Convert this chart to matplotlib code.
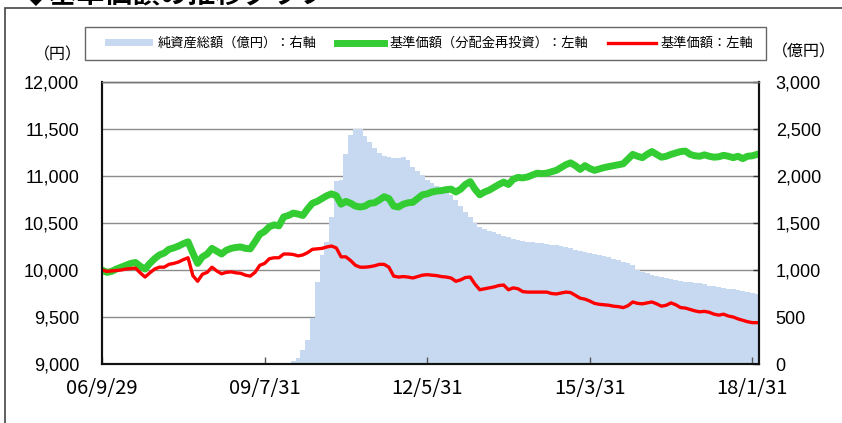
import matplotlib
matplotlib.use("Agg")
import matplotlib.pyplot as plt
from matplotlib.patches import Patch, Rectangle

plt.rcParams["font.family"] = ["Noto Sans CJK JP", "DejaVu Sans"]

# x axis: monthly index, 0 = 2006/9
tick_months = [0, 34, 68, 102, 136]
tick_labels = ["06/9/29", "09/7/31", "12/5/31", "15/3/31", "18/1/31"]

# 基準価額(分配金再投資) (yen), monthly
nav_reinvested = [
    10000, 9975, 9985, 10010, 10030, 10050, 10070, 10080, 10040, 10010,
    10070, 10120, 10160, 10180, 10220, 10235, 10255, 10280, 10300, 10180,
    10070, 10140, 10170, 10230, 10200, 10170, 10210, 10230, 10240, 10245,
    10230, 10225, 10300, 10380, 10410, 10460, 10480, 10470, 10565, 10580,
    10605, 10595, 10580, 10650, 10710, 10730, 10760, 10790, 10810, 10790,
    10700, 10730, 10710, 10680, 10670, 10680, 10710, 10715, 10745, 10780,
    10760, 10680, 10670, 10700, 10715, 10720, 10760, 10800, 10810, 10830,
    10840, 10845, 10855, 10860, 10830, 10860, 10910, 10940, 10860, 10800,
    10830, 10850, 10880, 10910, 10935, 10910, 10965, 10985, 10980, 10990,
    11010, 11030, 11025, 11030, 11045, 11060, 11090, 11120, 11140, 11110,
    11070, 11110, 11080, 11060, 11075, 11090, 11100, 11110, 11120, 11130,
    11180, 11230, 11210, 11195, 11230, 11260, 11230, 11200, 11210, 11230,
    11245, 11260, 11265, 11230, 11215, 11210, 11225, 11210, 11200, 11205,
    11220, 11210, 11195, 11210, 11185, 11210, 11215, 11230,
]

# 基準価額 (yen), monthly
nav = [
    10000, 9985, 9990, 9995, 10000, 10010, 10015, 10020, 9970, 9925,
    9970, 10010, 10030, 10030, 10060, 10070, 10085, 10110, 10130, 9940,
    9880, 9955, 9975, 10030, 9990, 9960, 9975, 9980, 9970, 9965,
    9945, 9935, 9975, 10050, 10070, 10120, 10130, 10130, 10170, 10170,
    10165, 10150, 10160, 10185, 10220, 10225, 10230, 10245, 10255, 10235,
    10140, 10140, 10100, 10050, 10030, 10030, 10035, 10045, 10060, 10060,
    10030, 9935, 9925, 9930, 9925, 9915, 9930, 9945, 9950, 9945,
    9940, 9930, 9925, 9915, 9880, 9895, 9920, 9925, 9850, 9790,
    9800, 9810, 9820, 9835, 9840, 9790, 9810, 9800, 9770, 9765,
    9765, 9765, 9765, 9765, 9750, 9745, 9755, 9765, 9760, 9730,
    9700, 9690, 9670, 9645, 9635, 9630, 9625, 9615, 9610, 9600,
    9620, 9660, 9645, 9640, 9650, 9660, 9640, 9615, 9625, 9650,
    9630, 9600, 9595, 9580, 9565, 9555, 9560, 9550, 9530, 9520,
    9530, 9510, 9500, 9480, 9465, 9450, 9440, 9440,
]

# 純資産総額 (億円), monthly from month index 38
assets_start = 38
net_assets = [
    10, 15, 30, 60, 150, 255, 490, 870, 1160, 1300,
    1560, 1950, 1960, 2230, 2440, 2500, 2500, 2430, 2360, 2300,
    2250, 2210, 2200, 2190, 2195, 2200, 2170, 2100, 2050, 2010,
    1960, 1925, 1895, 1870, 1830, 1800, 1745, 1680, 1620, 1560,
    1500, 1460, 1435, 1415, 1400, 1380, 1360, 1350, 1330, 1320,
    1310, 1300, 1295, 1290, 1285, 1275, 1270, 1265, 1260, 1250,
    1230, 1215, 1205, 1195, 1185, 1175, 1160, 1150, 1135, 1120,
    1105, 1090, 1075, 1050, 1000, 980, 965, 950, 940, 930,
    915, 905, 895, 885, 875, 870, 865, 860, 850, 835,
    825, 815, 805, 800, 795, 785, 775, 770, 760, 750,
]

W, H = 842, 423
fig = plt.figure(figsize=(W / 100, H / 100), dpi=100)

# outer frame and clipped heading
fig.add_artist(Rectangle((5 / W, -0.2), 2.0, 1.2 - 8 / H, transform=fig.transFigure,
                         fill=False, ec="#444444", lw=1.2))
fig.text(22 / W, 1 - 2.5 / H, "◆基準価額の推移グラフ", fontsize=20, fontweight="bold",
         ha="left", va="baseline")

ax = fig.add_axes([102 / W, 1 - 364 / H, 657 / W, 282 / H])
ax2 = ax.twinx()
ax.set_zorder(ax2.get_zorder() + 1)
ax.patch.set_visible(False)

months = list(range(len(nav)))
asset_months = list(range(assets_start, assets_start + len(net_assets)))

ax2.bar(asset_months, net_assets, width=1.0, color="#C6D9F1", lw=0, zorder=2)
ax2.set_ylim(0, 3000)
ax2.set_yticks(range(0, 3001, 500))
ax2.set_yticklabels([f"{v:,}" for v in range(0, 3001, 500)],
                    fontfamily="Liberation Sans", fontsize=13)
ax2.yaxis.grid(True, color="#8c8c8c", lw=1)
ax2.set_axisbelow(True)
ax2.tick_params(axis="y", direction="in", length=4, width=1, color="#333333", pad=12)

l1, = ax.plot(months, nav_reinvested, color="#33CC33", lw=5, solid_joinstyle="round")
l2, = ax.plot(months, nav, color="#FF0000", lw=2.4, solid_joinstyle="round")
ax.set_xlim(0, 137.4)
ax.set_ylim(9000, 12000)
ax.set_yticks(range(9000, 12001, 500))
ax.set_yticklabels([f"{v:,}" for v in range(9000, 12001, 500)],
                   fontfamily="Liberation Sans", fontsize=13)
ax.tick_params(axis="y", length=0, pad=16.5)
ax.set_xticks(tick_months)
ax.set_xticklabels(tick_labels, fontsize=14.5)
ax.tick_params(axis="x", direction="in", length=5, width=1, color="#555555", pad=10)

for a in (ax, ax2):
    for s in ("left", "bottom", "right"):
        a.spines[s].set_color("#111111")
        a.spines[s].set_linewidth(1.5)
    a.spines["top"].set_color("#777777")
    a.spines["top"].set_linewidth(1)

fig.text(58 / W, 1 - 55 / H, "（円）", fontsize=11.5, ha="center", va="center")
fig.text(804 / W, 1 - 52 / H, "（億円）", fontsize=11.5, ha="center", va="center")

# legend box
fig.add_artist(Rectangle((85 / W, 1 - 60 / H), 681 / W, 33 / H, transform=fig.transFigure,
                         fill=True, fc="white", ec="#666666", lw=1, zorder=5))
handles = [Patch(color="#C6D9F1", lw=0), l1, l2]
labels = ["純資産総額（億円）：右軸", "基準価額（分配金再投資）：左軸", "基準価額：左軸"]
leg = fig.legend(handles, labels, ncol=3, loc="center",
                 bbox_to_anchor=(429.5 / W, 1 - 43.5 / H), fontsize=9.5,
                 frameon=False, handlelength=3.6, handleheight=0.5,
                 handletextpad=0.4, columnspacing=1.5, borderpad=0.2)
leg.set_zorder(6)

fig.savefig("out.png", dpi=100)
